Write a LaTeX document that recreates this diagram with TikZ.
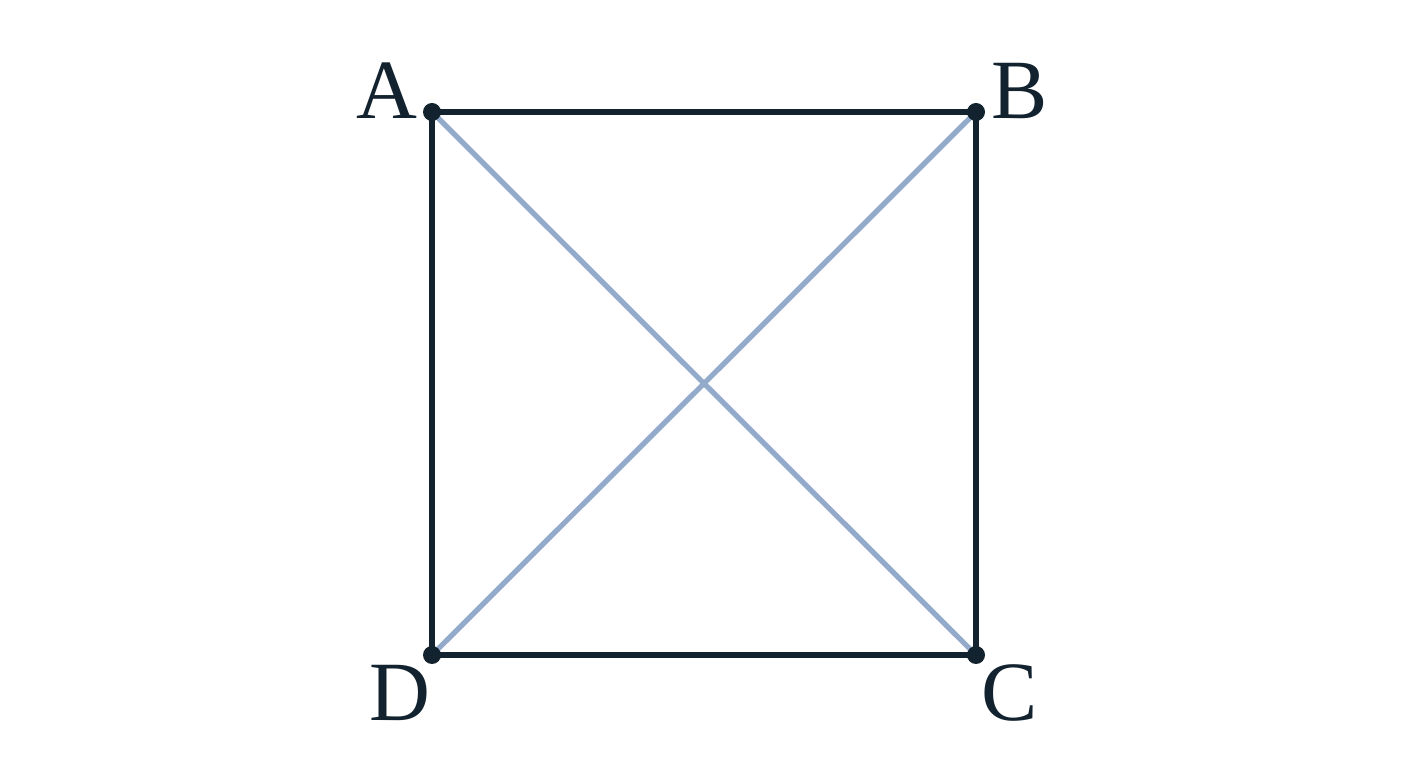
\documentclass[tikz,border=0pt]{standalone}
\usepackage{fontspec}
\setmainfont{Liberation Serif}
\usepackage{xcolor}
\usetikzlibrary{positioning}
\definecolor{inkdark}{HTML}{12232F}
\definecolor{diagblue}{HTML}{94AACB}
\tikzset{
  side/.style={draw=inkdark, line width=1.6pt},
  diag/.style={draw=diagblue, line width=1.5pt},
  vertex/.style={circle, fill=inkdark, inner sep=0pt, minimum size=0.18cm},
  corner/.style={text=inkdark, font=\fontsize{24}{28}\selectfont, inner sep=0pt}
}
\begin{document}
\begin{tikzpicture}
\useasboundingbox (0,0) rectangle (14.08,7.68);
% corners of the square
\coordinate (A) at (4.32,6.56);
\coordinate (B) at (9.76,6.56);
\coordinate (C) at (9.76,1.13);
\coordinate (D) at (4.32,1.13);

% diagonals
\draw[diag] (A) -- (C);
\draw[diag] (B) -- (D);

% sides
\draw[side] (A) -- (B) -- (C) -- (D) -- cycle;

% vertices and labels
\foreach \p in {A,B,C,D} {
    \node[vertex] (dot\p) at (\p) {};
}
\node[corner] (labA) at (3.87,6.77) {A};
\node[corner] (labB) at (10.20,6.77) {B};
\node[corner] (labC) at (10.10,0.75) {C};
\node[corner] (labD) at (4.00,0.75) {D};
\end{tikzpicture}
\end{document}
